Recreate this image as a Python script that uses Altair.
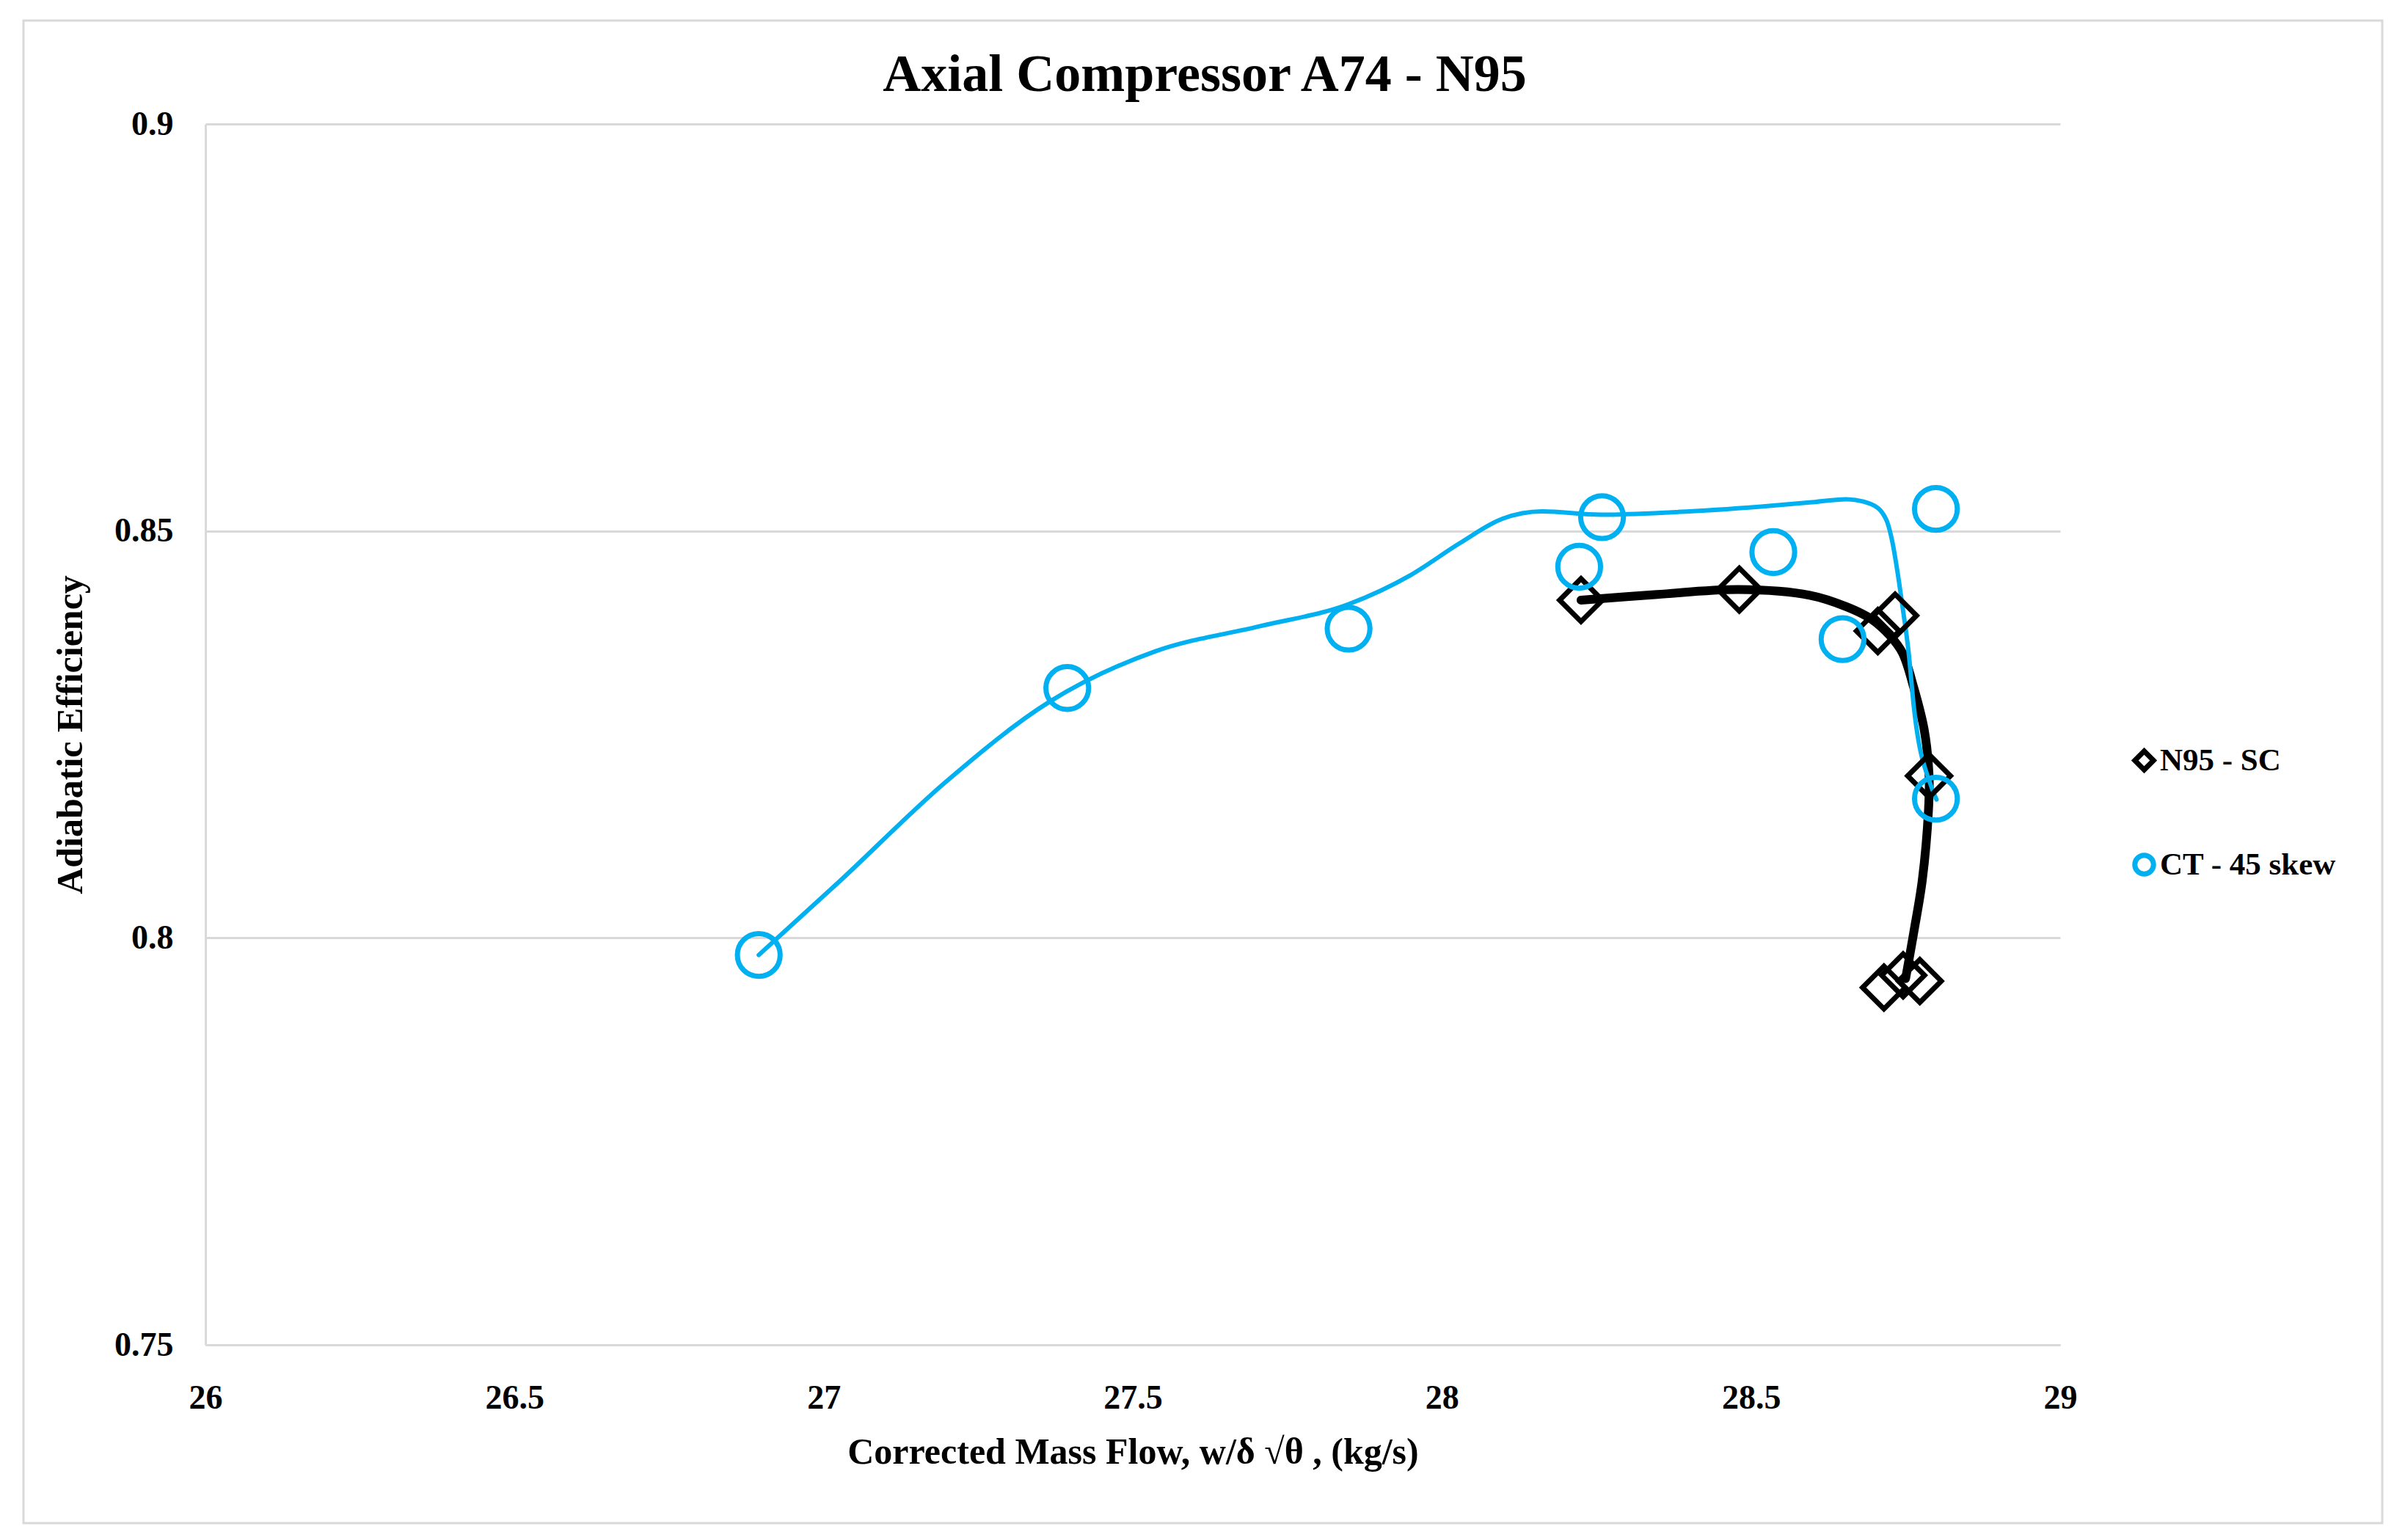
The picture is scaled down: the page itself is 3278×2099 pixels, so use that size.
import altair as alt
import pandas as pd

# ---- data ----
# N95 - SC markers (diamonds)
sc_x = [28.225, 28.481, 28.705, 28.733, 28.788, 28.715, 28.746, 28.773]
sc_y = [0.8415, 0.8428, 0.8377, 0.8396, 0.8199, 0.7939, 0.7954, 0.7947]
# N95 - SC smooth curve (black)
sc_curve_x = [28.225, 28.348, 28.481, 28.595, 28.654, 28.694, 28.725, 28.745,
              28.763, 28.780, 28.788, 28.787, 28.777, 28.763, 28.750]
sc_curve_y = [0.8415, 0.8422, 0.8428, 0.8421, 0.8407, 0.8392, 0.8371, 0.8350,
              0.8308, 0.8256, 0.8199, 0.8157, 0.8071, 0.8006, 0.7950]
# CT - 45 skew markers (circles)
ct_x = [26.895, 27.394, 27.849, 28.222, 28.259, 28.536, 28.648, 28.799, 28.799]
ct_y = [0.7979, 0.8307, 0.8380, 0.8456, 0.8517, 0.8474, 0.8367, 0.8527, 0.8171]
# CT - 45 skew smooth curve (blue)
ct_curve_x = [26.895, 27.025, 27.195, 27.365, 27.536, 27.706, 27.849, 27.950,
              28.029, 28.098, 28.162, 28.257, 28.373, 28.516, 28.595, 28.654,
              28.694, 28.718, 28.729, 28.737, 28.745, 28.755, 28.763, 28.791, 28.800]
ct_curve_y = [0.7979, 0.8069, 0.8190, 0.8290, 0.8352, 0.8383, 0.8410, 0.8446,
              0.8485, 0.8515, 0.8524, 0.8520, 0.8523, 0.8530, 0.8535, 0.8539,
              0.8533, 0.8515, 0.8485, 0.8449, 0.8407, 0.8350, 0.8286, 0.8187, 0.8170]

series_names = ["N95 - SC", "CT - 45 skew"]
series_colors = ["#000000", "#00B0F0"]
series_shapes = ["diamond", "circle"]
x_ticks = [26, 26.5, 27, 27.5, 28, 28.5, 29]
y_ticks = [0.75, 0.8, 0.85, 0.9]

FONT = "Liberation Serif"

points = pd.DataFrame({
    "x": sc_x + ct_x,
    "y": sc_y + ct_y,
    "series": [series_names[0]] * len(sc_x) + [series_names[1]] * len(ct_x),
})
sc_curve = pd.DataFrame({"x": sc_curve_x, "y": sc_curve_y, "i": list(range(len(sc_curve_x)))})
ct_curve = pd.DataFrame({"x": ct_curve_x, "y": ct_curve_y, "i": list(range(len(ct_curve_x)))})

xscale = alt.Scale(domain=[26, 29], nice=False, zero=False)
yscale = alt.Scale(domain=[0.75, 0.9], nice=False, zero=False)

xaxis = alt.Axis(values=x_ticks, format=".1~f", labelFlush=False,
                 title="Corrected  Mass Flow, w/δ √θ , (kg/s)")
yaxis = alt.Axis(values=y_ticks, format=".2~f", labelFlush=False,
                 title="Adiabatic  Efficiency")

border = alt.Chart(pd.DataFrame({"a": [0]})).mark_rect(
    fill="transparent", stroke="#D9D9D9", strokeWidth=3
).encode(
    x=alt.value(-248), x2=alt.value(2967), y=alt.value(-141), y2=alt.value(1907)
)

sc_line = alt.Chart(sc_curve).mark_line(
    color="#000000", strokeWidth=12, interpolate="catmull-rom", strokeCap="round"
).encode(
    x=alt.X("x:Q", scale=xscale, axis=xaxis),
    y=alt.Y("y:Q", scale=yscale, axis=yaxis),
    order="i:Q",
)

ct_line = alt.Chart(ct_curve).mark_line(
    color="#00B0F0", strokeWidth=6, interpolate="monotone", strokeCap="round"
).encode(
    x=alt.X("x:Q", scale=xscale),
    y=alt.Y("y:Q", scale=yscale),
    order="i:Q",
)

marks = alt.Chart(points).mark_point(
    filled=False, size=3400, strokeWidth=7, opacity=1
).encode(
    x=alt.X("x:Q", scale=xscale),
    y=alt.Y("y:Q", scale=yscale),
    color=alt.Color("series:N", scale=alt.Scale(domain=series_names, range=series_colors),
                    legend=alt.Legend(title=None, orient="none", legendX=2621, legendY=846,
                                      symbolSize=650, symbolStrokeWidth=7,
                                      labelFont=FONT, labelFontSize=43,
                                      labelFontWeight="bold", labelColor="#000000",
                                      labelOffset=0, rowPadding=87, padding=0,
                                      labelLimit=0)),
    shape=alt.Shape("series:N", scale=alt.Scale(domain=series_names, range=series_shapes)),
)

chart = alt.layer(border, sc_line, ct_line, marks).properties(
    width=2528, height=1664,
    autosize=alt.AutoSizeParams(type="none"),
    padding={"left": 280, "top": 169, "right": 470, "bottom": 266},
    title=alt.TitleParams("Axial Compressor A74 - N95", font=FONT, fontSize=72,
                          fontWeight="bold", color="#000000", anchor="middle",
                          dx=98, offset=-112),
).configure_view(stroke=None).configure_axis(
    labelFont=FONT, labelFontWeight="bold", labelColor="#000000",
    titleFont=FONT, titleFontWeight="bold", titleColor="#000000",
    domainColor="#D9D9D9", domainWidth=3, ticks=False,
).configure_axisX(
    grid=False, labelFontSize=46, labelPadding=50, titleFontSize=50, titlePadding=26,
).configure_axisY(
    grid=True, gridColor="#D9D9D9", gridWidth=3, labelFontSize=46, labelPadding=44,
    titleFontSize=50, titlePadding=34,
)

chart.save("out.html", embed_options={"renderer": "svg", "actions": False})
